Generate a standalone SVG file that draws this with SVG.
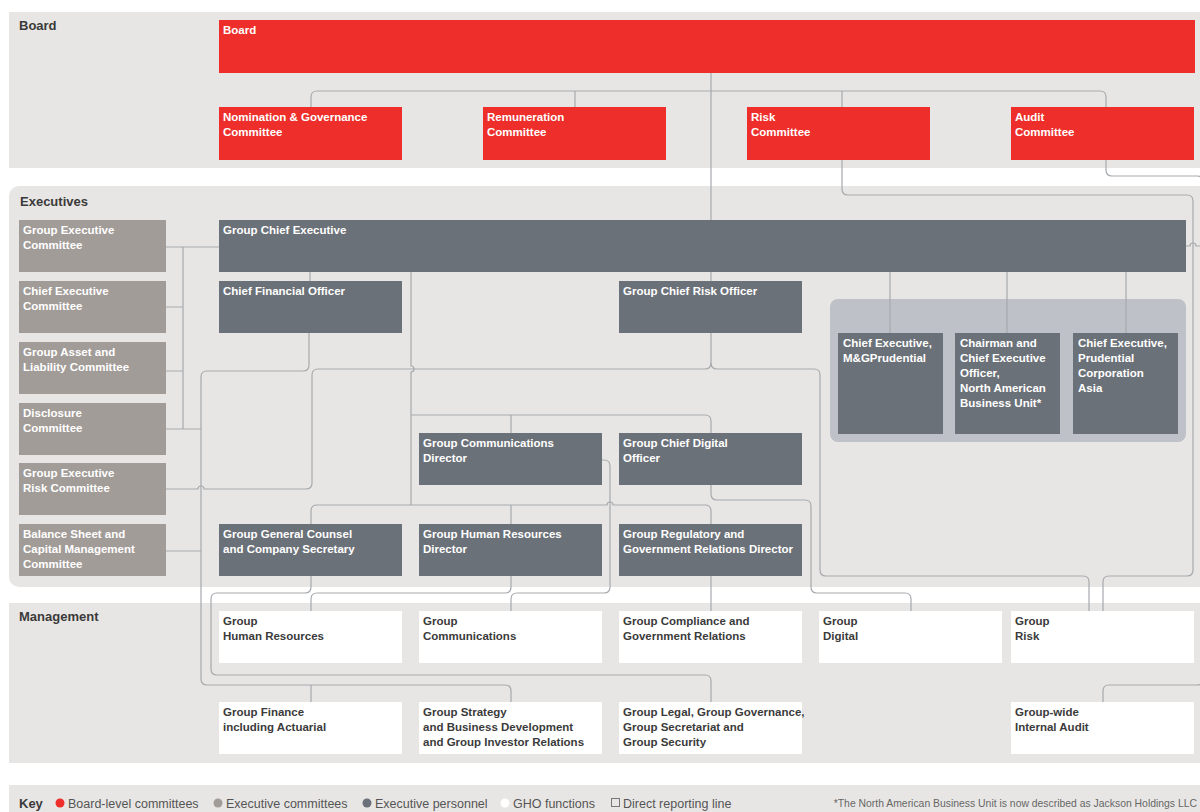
<svg xmlns="http://www.w3.org/2000/svg" width="1200" height="812" viewBox="0 0 1200 812">
  <style>
    .band{fill:#e8e6e4}
    .red{fill:#ed2e2a}
    .ec{fill:#a29c98}
    .ep{fill:#6b7178}
    .gho{fill:#ffffff}
    .panel{fill:#bec2c8}
    .t{font-family:"Liberation Sans",Arial,sans-serif;font-size:11.5px;font-weight:bold;fill:#ffffff}
    .td{fill:#3b3b3b}
    .sec{font-family:"Liberation Sans",Arial,sans-serif;font-size:13px;font-weight:bold;fill:#3a3a3a}
    .key{font-family:"Liberation Sans",Arial,sans-serif;font-size:12.5px;fill:#555555}
    .note{font-family:"Liberation Sans",Arial,sans-serif;font-size:10.4px;fill:#666666}
    #connectors path{fill:none;stroke:#a6a9ad;stroke-width:1.2}
  </style>

  <!-- section bands -->
  <g id="bands">
    <rect class="band" x="9" y="12" width="1200" height="156"/>
    <rect class="band" x="9" y="186" width="1210" height="401" rx="10"/>
    <rect class="band" x="9" y="603" width="1200" height="160"/>
    <rect class="band" x="9" y="785" width="1200" height="40"/>
    <rect class="panel" x="830" y="299" width="356" height="143" rx="8"/>
  </g>

  <g id="section-labels">
    <text class="sec" x="19" y="30">Board</text>
    <text class="sec" x="20" y="206">Executives</text>
    <text class="sec" x="19" y="621">Management</text>
  </g>

  <!-- reporting lines -->
  <g id="connectors">
    <path d="M711,73 V281"/>
    <path d="M311,107 V97 Q311,91 317,91 H1100 Q1106,91 1106,97 V170 Q1106,176 1112,176 H1197 Q1203,176 1203,182 V679 Q1203,685 1197,685 H1109 Q1103,685 1103,691 V702"/>
    <path d="M575,91 V107"/>
    <path d="M842,91 V189 Q842,195 848,195 H1187 Q1193,195 1193,201 V570 Q1193,576 1187,576 H1109 Q1103,576 1103,582 V611"/>
    <path d="M1186,246 H1190 A3,3 0 0 1 1196,246 H1200"/>
    <path d="M166,247 H219 M166,307 H183 M166,371 H183 M183,247 V429 M166,429 H201 M166,551 H201"/>
    <path d="M310,272 V281"/>
    <path d="M309,333 V365 Q309,371 303,371 H207 Q201,371 201,377 V679 Q201,685 207,685 H505 Q511,685 511,691 V702 M311,685 V702"/>
    <path d="M166,489 H198 A3,3 0 0 1 204,489 H306 Q312,489 312,483 V375 Q312,369 318,369 H705 Q711,369 711,363 V333"/>
    <path d="M711,363 Q711,369 717,369 H814 Q820,369 820,375 V570 Q820,576 826,576 H1083 Q1089,576 1089,582 V611"/>
    <path d="M890,272 V333 M1007,272 V333 M1126,272 V333"/>
    <path d="M411,272 V366 A3,3 0 0 1 411,372 V505"/>
    <path d="M411,415 H705 Q711,415 711,421 V433 M511,415 V433"/>
    <path d="M311,524 V511 Q311,505 317,505 H607 A3,3 0 0 1 613,505 H705 Q711,505 711,511 V524 M511,505 V524"/>
    <path d="M602,460 H604 Q610,460 610,466 V587 Q610,593 604,593 H517 Q511,593 511,599 V611"/>
    <path d="M711,485 V494 Q711,500 717,500 H805 Q811,500 811,506 V587 Q811,593 817,593 H905 Q911,593 911,599 V611"/>
    <path d="M711,576 V611"/>
    <path d="M311,576 V587 Q311,593 305,593 H217 Q211,593 211,599 V669 Q211,675 217,675 H705 Q711,675 711,681 V702"/>
    <path d="M511,576 V587 Q511,593 505,593 H317 Q311,593 311,599 V611"/>
  </g>

  <!-- board level -->
  <g id="board"><rect class="red" x="219" y="20" width="976" height="53"/><text class="t" x="223" y="34">Board</text></g>
  <g id="nomination-committee"><rect class="red" x="219" y="107" width="183" height="53"/><text class="t" x="223" y="121"><tspan x="223">Nomination &amp; Governance</tspan><tspan x="223" dy="15">Committee</tspan></text></g>
  <g id="remuneration-committee"><rect class="red" x="483" y="107" width="183" height="53"/><text class="t" x="487" y="121"><tspan x="487">Remuneration</tspan><tspan x="487" dy="15">Committee</tspan></text></g>
  <g id="risk-committee"><rect class="red" x="747" y="107" width="183" height="53"/><text class="t" x="751" y="121"><tspan x="751">Risk</tspan><tspan x="751" dy="15">Committee</tspan></text></g>
  <g id="audit-committee"><rect class="red" x="1011" y="107" width="183" height="53"/><text class="t" x="1015" y="121"><tspan x="1015">Audit</tspan><tspan x="1015" dy="15">Committee</tspan></text></g>

  <!-- executive committees -->
  <g id="group-executive-committee"><rect class="ec" x="19" y="220" width="147" height="52"/><text class="t" x="23" y="234"><tspan x="23">Group Executive</tspan><tspan x="23" dy="15">Committee</tspan></text></g>
  <g id="chief-executive-committee"><rect class="ec" x="19" y="281" width="147" height="52"/><text class="t" x="23" y="295"><tspan x="23">Chief Executive</tspan><tspan x="23" dy="15">Committee</tspan></text></g>
  <g id="asset-liability-committee"><rect class="ec" x="19" y="342" width="147" height="52"/><text class="t" x="23" y="356"><tspan x="23">Group Asset and</tspan><tspan x="23" dy="15">Liability Committee</tspan></text></g>
  <g id="disclosure-committee"><rect class="ec" x="19" y="403" width="147" height="52"/><text class="t" x="23" y="417"><tspan x="23">Disclosure</tspan><tspan x="23" dy="15">Committee</tspan></text></g>
  <g id="executive-risk-committee"><rect class="ec" x="19" y="463" width="147" height="52"/><text class="t" x="23" y="477"><tspan x="23">Group Executive</tspan><tspan x="23" dy="15">Risk Committee</tspan></text></g>
  <g id="balance-sheet-committee"><rect class="ec" x="19" y="524" width="147" height="52"/><text class="t" x="23" y="538"><tspan x="23">Balance Sheet and</tspan><tspan x="23" dy="15">Capital Management</tspan><tspan x="23" dy="15">Committee</tspan></text></g>

  <!-- executive personnel -->
  <g id="group-chief-executive"><rect class="ep" x="219" y="220" width="967" height="52"/><text class="t" x="223" y="234">Group Chief Executive</text></g>
  <g id="cfo"><rect class="ep" x="219" y="281" width="183" height="52"/><text class="t" x="223" y="295">Chief Financial Officer</text></g>
  <g id="cro"><rect class="ep" x="619" y="281" width="183" height="52"/><text class="t" x="623" y="295">Group Chief Risk Officer</text></g>
  <g id="ceo-mandg"><rect class="ep" x="838" y="333" width="105" height="101"/><text class="t" x="843" y="347"><tspan x="843">Chief Executive,</tspan><tspan x="843" dy="15">M&amp;GPrudential</tspan></text></g>
  <g id="ceo-nabu"><rect class="ep" x="955" y="333" width="105" height="101"/><text class="t" x="960" y="347"><tspan x="960">Chairman and</tspan><tspan x="960" dy="15">Chief Executive</tspan><tspan x="960" dy="15">Officer,</tspan><tspan x="960" dy="15">North American</tspan><tspan x="960" dy="15">Business Unit*</tspan></text></g>
  <g id="ceo-pca"><rect class="ep" x="1073" y="333" width="105" height="101"/><text class="t" x="1078" y="347"><tspan x="1078">Chief Executive,</tspan><tspan x="1078" dy="15">Prudential</tspan><tspan x="1078" dy="15">Corporation</tspan><tspan x="1078" dy="15">Asia</tspan></text></g>
  <g id="communications-director"><rect class="ep" x="419" y="433" width="183" height="52"/><text class="t" x="423" y="447"><tspan x="423">Group Communications</tspan><tspan x="423" dy="15">Director</tspan></text></g>
  <g id="chief-digital-officer"><rect class="ep" x="619" y="433" width="183" height="52"/><text class="t" x="623" y="447"><tspan x="623">Group Chief Digital</tspan><tspan x="623" dy="15">Officer</tspan></text></g>
  <g id="general-counsel"><rect class="ep" x="219" y="524" width="183" height="52"/><text class="t" x="223" y="538"><tspan x="223">Group General Counsel</tspan><tspan x="223" dy="15">and Company Secretary</tspan></text></g>
  <g id="hr-director"><rect class="ep" x="419" y="524" width="183" height="52"/><text class="t" x="423" y="538"><tspan x="423">Group Human Resources</tspan><tspan x="423" dy="15">Director</tspan></text></g>
  <g id="regulatory-director"><rect class="ep" x="619" y="524" width="183" height="52"/><text class="t" x="623" y="538"><tspan x="623">Group Regulatory and</tspan><tspan x="623" dy="15">Government Relations Director</tspan></text></g>

  <!-- GHO functions -->
  <g id="group-hr"><rect class="gho" x="219" y="611" width="183" height="52"/><text class="t td" x="223" y="625"><tspan x="223">Group</tspan><tspan x="223" dy="15">Human Resources</tspan></text></g>
  <g id="group-communications"><rect class="gho" x="419" y="611" width="183" height="52"/><text class="t td" x="423" y="625"><tspan x="423">Group</tspan><tspan x="423" dy="15">Communications</tspan></text></g>
  <g id="group-compliance"><rect class="gho" x="619" y="611" width="183" height="52"/><text class="t td" x="623" y="625"><tspan x="623">Group Compliance and</tspan><tspan x="623" dy="15">Government Relations</tspan></text></g>
  <g id="group-digital"><rect class="gho" x="819" y="611" width="183" height="52"/><text class="t td" x="823" y="625"><tspan x="823">Group</tspan><tspan x="823" dy="15">Digital</tspan></text></g>
  <g id="group-risk"><rect class="gho" x="1011" y="611" width="183" height="52"/><text class="t td" x="1015" y="625"><tspan x="1015">Group</tspan><tspan x="1015" dy="15">Risk</tspan></text></g>
  <g id="group-finance"><rect class="gho" x="219" y="702" width="183" height="52"/><text class="t td" x="223" y="716"><tspan x="223">Group Finance</tspan><tspan x="223" dy="15">including Actuarial</tspan></text></g>
  <g id="group-strategy"><rect class="gho" x="419" y="702" width="183" height="52"/><text class="t td" x="423" y="716"><tspan x="423">Group Strategy</tspan><tspan x="423" dy="15">and Business Development</tspan><tspan x="423" dy="15">and Group Investor Relations</tspan></text></g>
  <g id="group-legal"><rect class="gho" x="619" y="702" width="183" height="52"/><text class="t td" x="623" y="716"><tspan x="623">Group Legal, Group Governance,</tspan><tspan x="623" dy="15">Group Secretariat and</tspan><tspan x="623" dy="15">Group Security</tspan></text></g>
  <g id="internal-audit"><rect class="gho" x="1011" y="702" width="183" height="52"/><text class="t td" x="1015" y="716"><tspan x="1015">Group-wide</tspan><tspan x="1015" dy="15">Internal Audit</tspan></text></g>

  <!-- key -->
  <g id="key">
    <text class="sec" x="19" y="808">Key</text>
    <circle cx="60" cy="803" r="4.5" class="red"/>
    <text class="key" x="68" y="808">Board-level committees</text>
    <circle cx="218" cy="803" r="4.5" class="ec"/>
    <text class="key" x="226" y="808">Executive committees</text>
    <circle cx="367" cy="803" r="4.5" class="ep"/>
    <text class="key" x="375" y="808">Executive personnel</text>
    <circle cx="505" cy="803" r="4.5" class="gho"/>
    <text class="key" x="513" y="808">GHO functions</text>
    <rect x="611.5" y="798.5" width="8" height="8" fill="none" stroke="#777777" stroke-width="1"/>
    <text class="key" x="623" y="808">Direct reporting line</text>
    <text class="note" x="1197" y="807" text-anchor="end">*The North American Business Unit is now described as Jackson Holdings LLC</text>
  </g>
</svg>
